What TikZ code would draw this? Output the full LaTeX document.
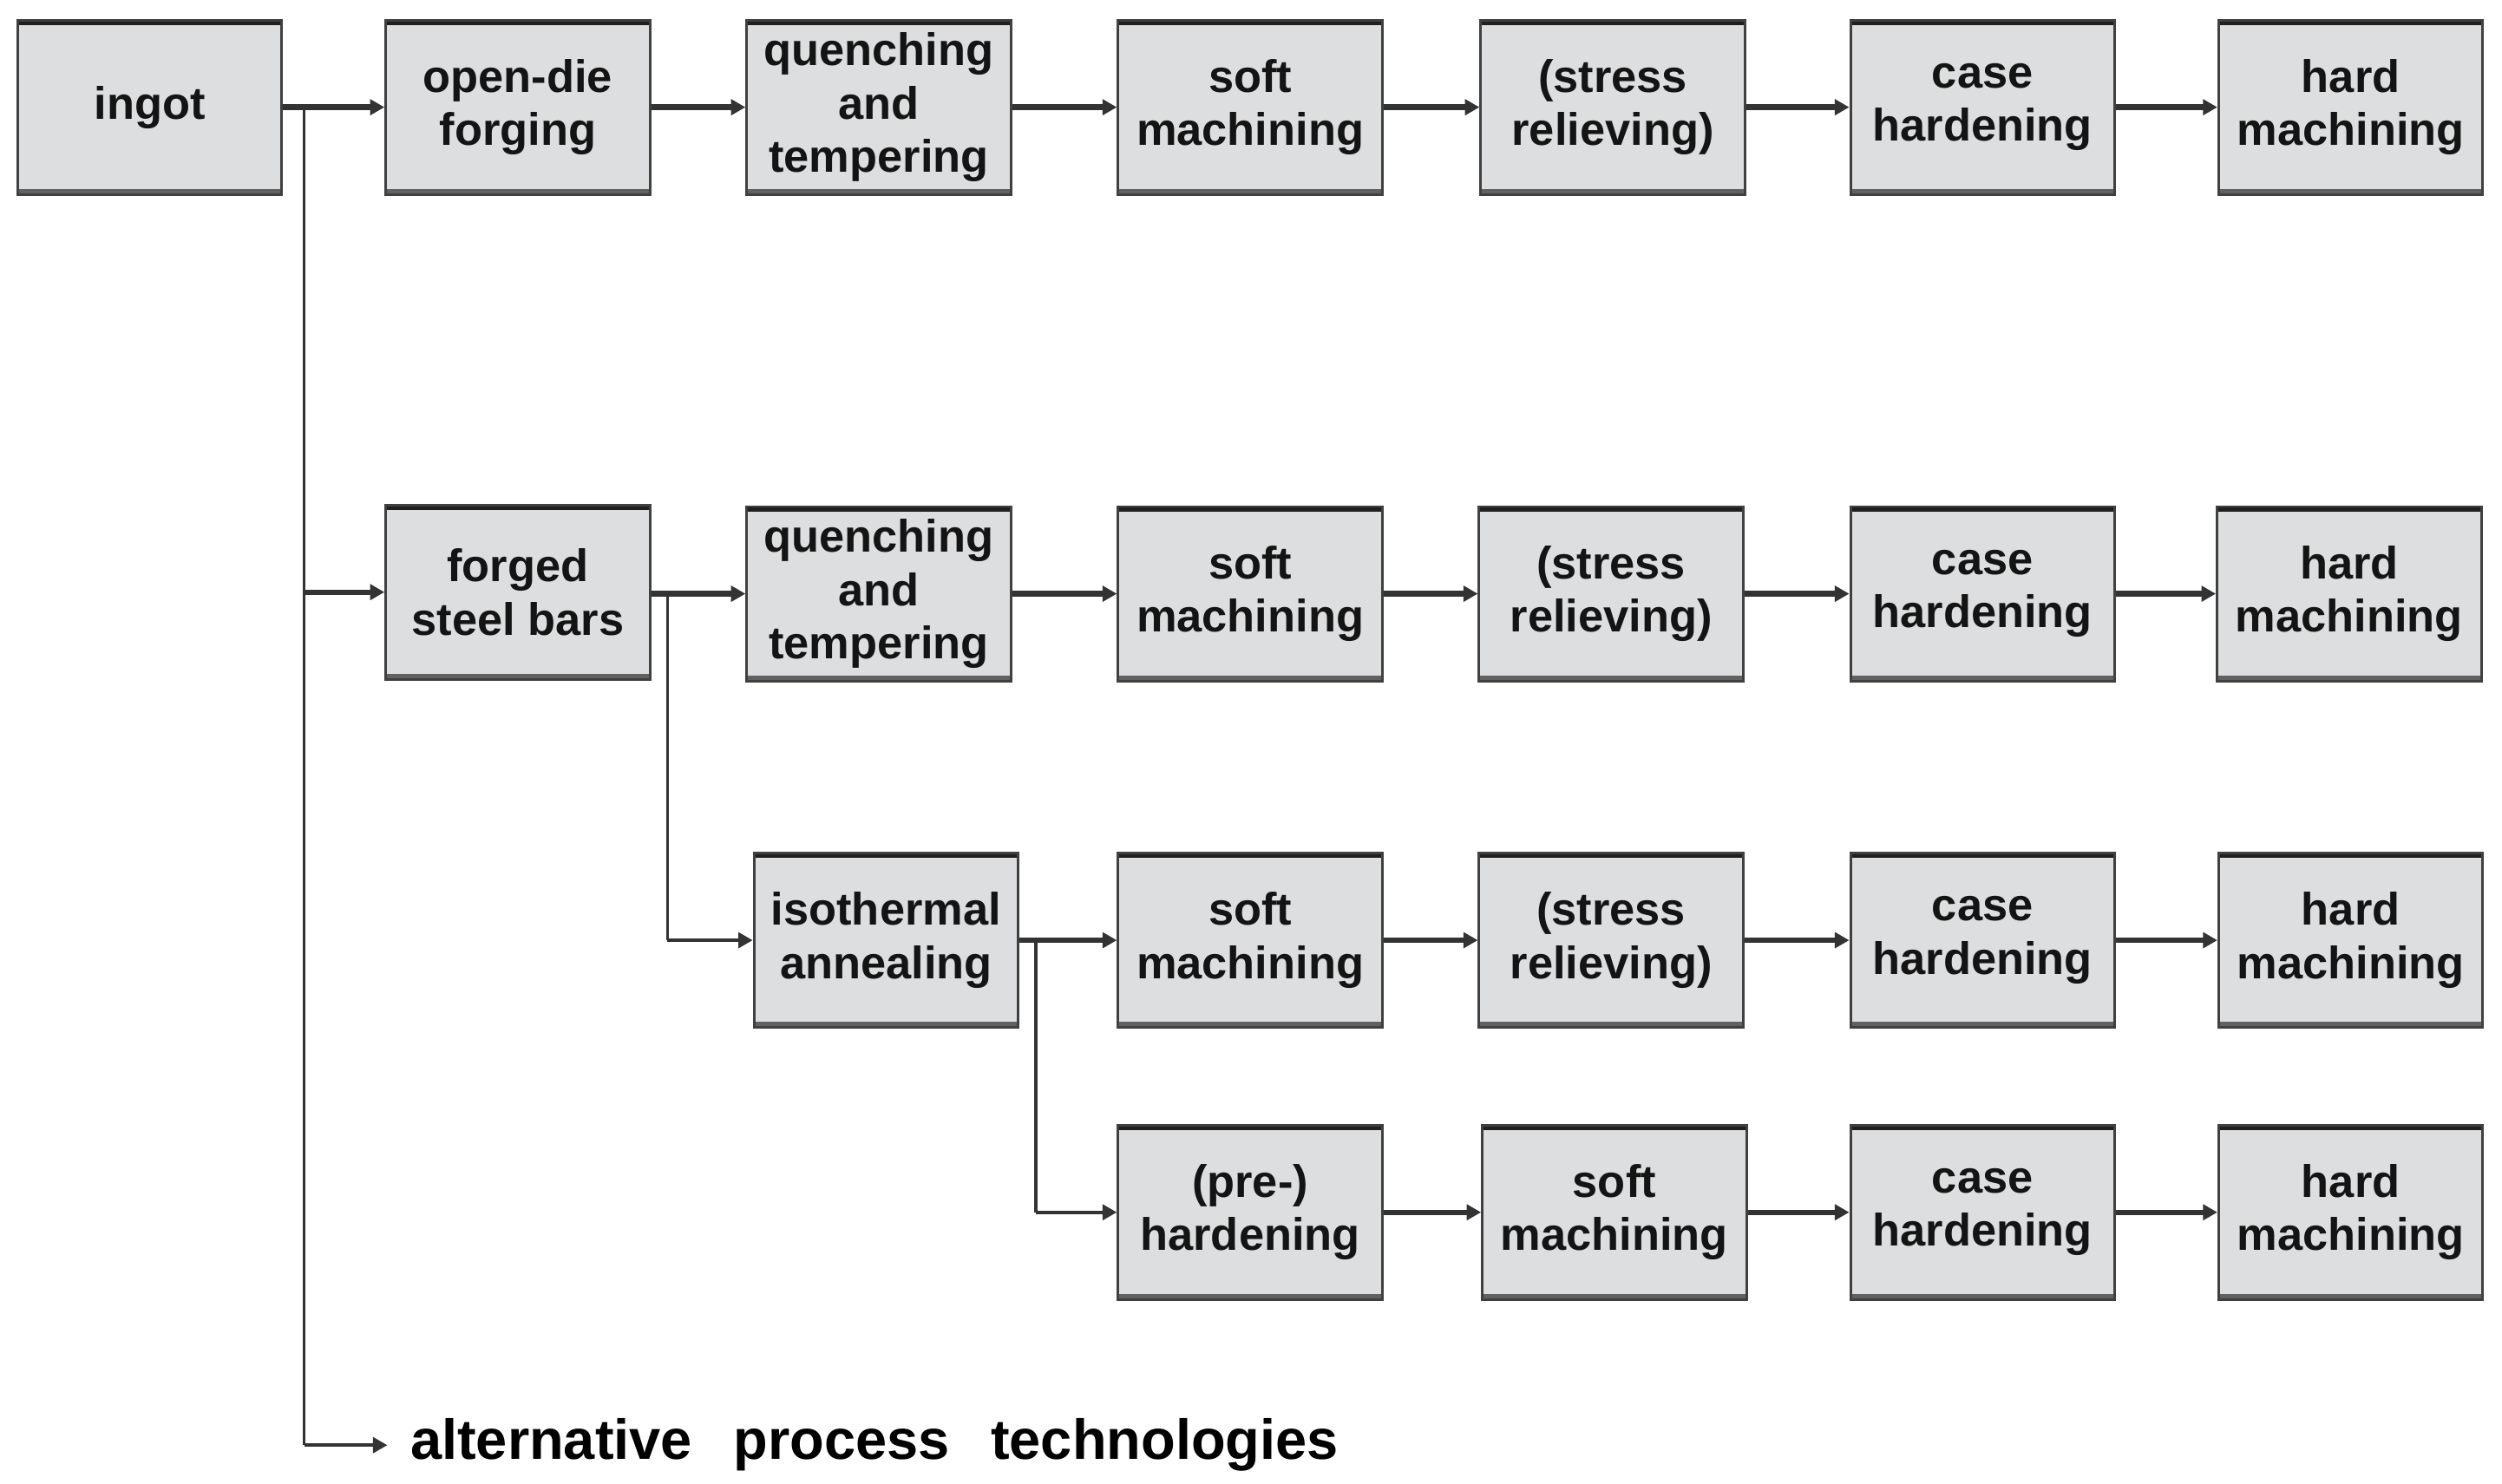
\documentclass[tikz,border=0pt]{standalone}
\usepackage{fontspec}
\setmainfont{Liberation Sans}
\usetikzlibrary{arrows.meta}
\definecolor{boxfill}{HTML}{DCDEE0}
\definecolor{boxedge}{HTML}{404040}
\definecolor{linecol}{HTML}{333333}
\begin{document}
\begin{tikzpicture}[x=0.5pt,y=-0.5pt,
  procbox/.style={draw=boxedge, line width=0.8pt, fill=boxfill,
    minimum width=82.5pt, minimum height=54.5pt, inner sep=0pt, align=center,
    font=\fontsize{14.2}{16.6}\selectfont\bfseries, text=black!92,
    path picture={
      \fill[black!88] (path picture bounding box.north west) rectangle ([yshift=-1.5pt]path picture bounding box.north east);
      \fill[black!62] (path picture bounding box.south west) rectangle ([yshift=1.7pt]path picture bounding box.south east);
    }},
  flow/.style={draw=linecol, line width=1.7pt, -{Triangle[length=4.5pt,width=4.8pt]}},
  thinflow/.style={draw=linecol, line width=1.2pt, -{Triangle[length=4.5pt,width=4.8pt]}},
  trunk/.style={draw=linecol, line width=1pt}]
\useasboundingbox (0,0) rectangle (1563,927);
% row 1
\node[procbox] (ingot) at (93.5,67) {ingot};
\node[procbox] (open) at (323.5,67) {open-die\\forging};
\node[procbox] (qt1) at (549,67) {quenching\\and\\tempering};
\node[procbox] (soft1) at (781,67) {soft\\machining};
\node[procbox] (sr1) at (1007.5,67) {(stress\\relieving)};
\node[procbox] (case1) at (1238.5,67) {case\\hardening};
\node[procbox] (hard1) at (1468.5,67) {hard\\machining};
% row 2
\node[procbox] (forged) at (323.5,370) {forged\\steel bars};
\node[procbox] (qt2) at (549,371) {quenching\\and\\tempering};
\node[procbox] (soft2) at (781,371) {soft\\machining};
\node[procbox] (sr2) at (1006.5,371) {(stress\\relieving)};
\node[procbox] (case2) at (1238.5,371) {case\\hardening};
\node[procbox] (hard2) at (1467.5,371) {hard\\machining};
% row 3
\node[procbox] (iso) at (553.5,587.5) {isothermal\\annealing};
\node[procbox] (soft3) at (781,587.5) {soft\\machining};
\node[procbox] (sr3) at (1006.5,587.5) {(stress\\relieving)};
\node[procbox] (case3) at (1238.5,587.5) {case\\hardening};
\node[procbox] (hard3) at (1468.5,587.5) {hard\\machining};
% row 4
\node[procbox] (pre) at (781,757.5) {(pre-)\\hardening};
\node[procbox] (soft4) at (1008.5,757.5) {soft\\machining};
\node[procbox] (case4) at (1238.5,757.5) {case\\hardening};
\node[procbox] (hard4) at (1468.5,757.5) {hard\\machining};
% alternative
\node[anchor=west, inner xsep=7pt, inner ysep=0pt, font=\fontsize{17.6}{20}\selectfont\bfseries] (alt) at (242,903)
  {alternative\hspace{8pt} process\hspace{8pt} technologies};
% junctions
\coordinate (j1) at (190,67);
\coordinate (j2) at (417,370);
\coordinate (j3) at (647,587.5);
% row 1 arrows
\draw[flow] (ingot) -- (open);
\draw[flow] (open) -- (qt1);
\draw[flow] (qt1) -- (soft1);
\draw[flow] (soft1) -- (sr1);
\draw[flow] (sr1) -- (case1);
\draw[flow] (case1) -- (hard1);
% trunk from ingot
\draw[trunk] (j1) -- (j1 |- alt.west);
\draw[flow] (j1 |- forged.west) -- (forged.west);
\draw[thinflow] (j1 |- alt.west) -- (alt.west);
% row 2 arrows
\draw[flow] (forged.east |- qt2.west) -- (qt2.west);
\draw[flow] (qt2) -- (soft2);
\draw[flow] (soft2) -- (sr2);
\draw[flow] (sr2) -- (case2);
\draw[flow] (case2) -- (hard2);
% branch to isothermal
\draw[trunk] (j2) -- (j2 |- iso.west);
\draw[thinflow] (j2 |- iso.west) -- (iso.west);
% row 3 arrows
\draw[flow] (iso) -- (soft3);
\draw[flow] (soft3) -- (sr3);
\draw[flow] (sr3) -- (case3);
\draw[flow] (case3) -- (hard3);
% branch to pre-hardening
\draw[trunk] (j3) -- (j3 |- pre.west);
\draw[thinflow] (j3 |- pre.west) -- (pre.west);
% row 4 arrows
\draw[flow] (pre) -- (soft4);
\draw[flow] (soft4) -- (case4);
\draw[flow] (case4) -- (hard4);
\end{tikzpicture}
\end{document}
